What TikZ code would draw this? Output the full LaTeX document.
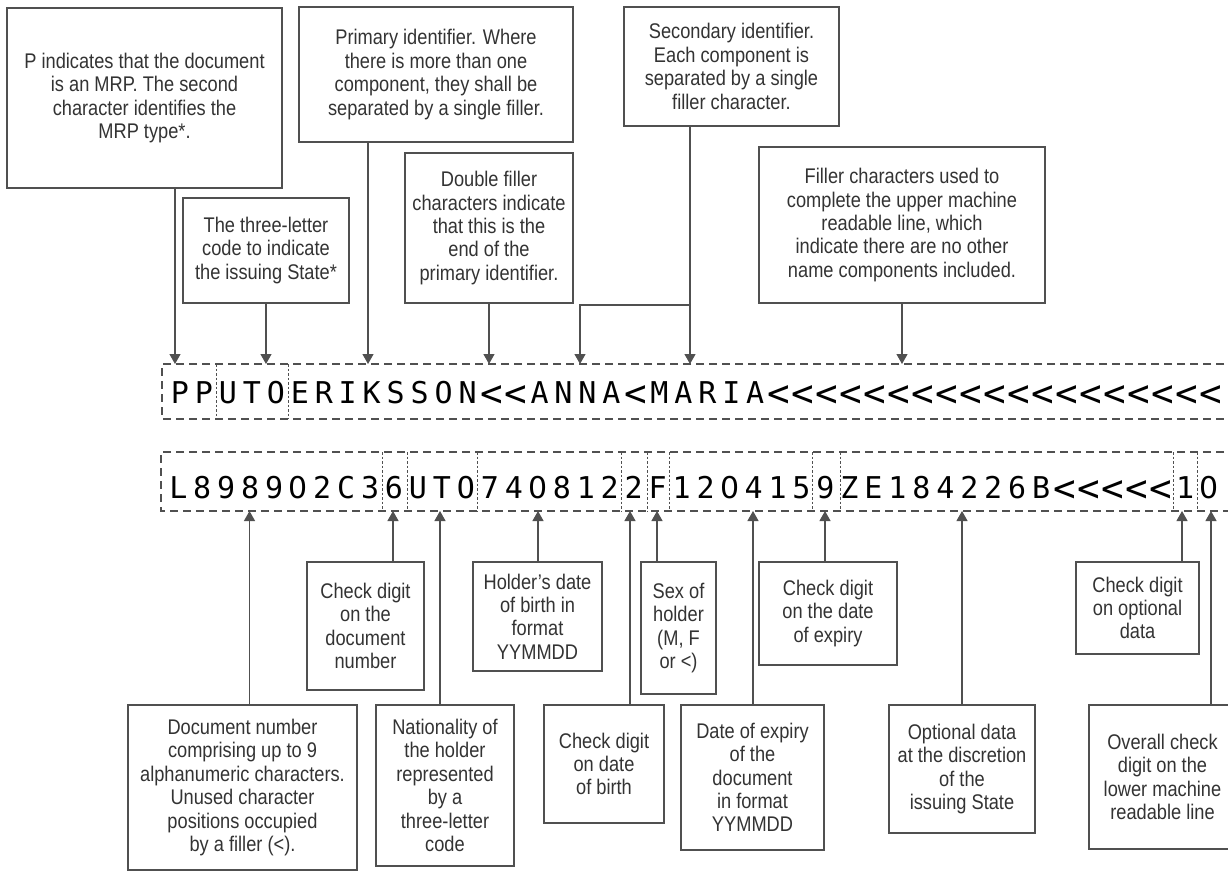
\documentclass[tikz,border=0pt]{standalone}
\usepackage{fontspec}
\usepackage{graphicx}
\setmainfont[FakeStretch=0.86]{Liberation Sans}
\newfontfamily\mrzfont{DejaVu Sans Mono}
\newfontfamily\mrzsans{DejaVu Sans}
\usetikzlibrary{arrows.meta}
\definecolor{ln}{HTML}{505050}
\definecolor{tx}{HTML}{333333}
\newcommand\lt{\raisebox{-3pt}{\scalebox{1.25}{<}}}
\newcommand\zr{{\mrzsans 0}}
\tikzset{
  box/.style={draw=ln, line width=1.2pt, text=tx, align=center, inner sep=0pt,
    font=\fontsize{21.2}{23.4}\selectfont},
  arr/.style={draw=ln, line width=1.2pt, -{Triangle[length=10pt,width=11pt]}},
  outer/.style={draw=ln, line width=1.1pt, dash pattern=on 8pt off 5pt},
  sepl/.style={draw=ln, line width=0.9pt, dash pattern=on 2.5pt off 2pt},
  ch/.style={anchor=base, inner sep=0pt, font=\fontsize{30}{30}\selectfont\mrzfont, text=black},
}
\begin{document}
\begin{tikzpicture}[x=1pt,y=-1pt]
\useasboundingbox (0,0) rectangle (1228,872);
\fill[white] (0,0) rectangle (1228,872);

% ---------- top boxes ----------
\node[box, minimum width=275pt, minimum height=180pt] (A) at (144.5,98)
  {P indicates that the document\\is an MRP. The second\\character identifies the\\MRP type*.};
\node[box, minimum width=166pt, minimum height=105pt] (B) at (266,250.5)
  {The three-letter\\code to indicate\\the issuing State*};
\node[box, minimum width=274pt, minimum height=135pt] (Pr) at (436,74.5)
  {Primary identifier. Where\\there is more than one\\component, they shall be\\separated by a single filler.};
\node[box, minimum width=168pt, minimum height=150pt] (D) at (489,228)
  {Double filler\\characters indicate\\that this is the\\end of the\\primary identifier.};
\node[box, minimum width=215pt, minimum height=119pt] (S) at (731.5,66.5)
  {Secondary identifier.\\Each component is\\separated by a single\\filler character.};
\node[box, minimum width=286pt, minimum height=156pt] (F) at (902,225)
  {Filler characters used to\\complete the upper machine\\readable line, which\\indicate there are no other\\name components included.};

% ---------- bottom boxes ----------
\node[box, minimum width=229pt, minimum height=165pt] (DN) at (242.5,787.5)
  {Document number\\comprising up to 9\\alphanumeric characters.\\Unused character\\positions occupied\\by a filler (<).};
\node[box, minimum width=117pt, minimum height=128pt] (CD) at (365.5,626)
  {Check digit\\on the\\document\\number};
\node[box, minimum width=138pt, minimum height=161pt] (NA) at (445,785.5)
  {Nationality of\\the holder\\represented\\by a\\three-letter\\code};
\node[box, minimum width=129pt, minimum height=109pt] (HB) at (537.5,616.5)
  {Holder’s date\\of birth in\\format\\YYMMDD};
\node[box, minimum width=120pt, minimum height=118pt] (CB) at (604,764)
  {Check digit\\on date\\of birth};
\node[box, minimum width=75pt, minimum height=132pt] (SX) at (678.5,628)
  {Sex of\\holder\\(M, F\\or <)};
\node[box, minimum width=143pt, minimum height=145pt] (EX) at (752.5,777.5)
  {Date of expiry\\of the\\document\\in format\\YYMMDD};
\node[box, minimum width=138pt, minimum height=103pt] (CE) at (828,613.5)
  {Check digit\\on the date\\of expiry};
\node[box, minimum width=146pt, minimum height=128pt] (OD) at (962,769)
  {Optional data\\at the discretion\\of the\\issuing State};
\node[box, minimum width=123pt, minimum height=92pt] (CO) at (1137.5,608)
  {Check digit\\on optional\\data};
\node[box, minimum width=147pt, minimum height=144pt] (OV) at (1162.5,777)
  {Overall check\\digit on the\\lower machine\\readable line};

% ---------- MRZ frames ----------
\draw[outer] (1250,364) -- (162,364) -- (162,419) -- (1250,419);
\draw[sepl] (216,364) -- (216,419);
\draw[sepl] (288,364) -- (288,419);
\draw[outer] (1250,452) -- (161,452) -- (161,511) -- (1250,511);
\foreach \sx in {382,407,477.5,621,647,669.5,812.5,840,1173.5,1197}
  \draw[sepl] (\sx,452) -- (\sx,511);

% ---------- MRZ characters ----------
\foreach \c [count=\i from 0] in {P,P,U,T,O,E,R,I,K,S,S,O,N,\lt,\lt,A,N,N,A,\lt,M,A,R,I,A,%
  \lt,\lt,\lt,\lt,\lt,\lt,\lt,\lt,\lt,\lt,\lt,\lt,\lt,\lt,\lt,\lt,\lt,\lt,\lt}
  \node[ch] (ua\i) at ({168+23.97*(\i+0.5)},403) {\c};
\foreach \c [count=\i from 0] in {L,8,9,8,9,\zr,2,C,3,6,U,T,O,7,4,\zr,8,1,2,2,F,1,2,\zr,4,1,5,9,%
  Z,E,1,8,4,2,2,6,B,\lt,\lt,\lt,\lt,\lt,1,\zr}
  \node[ch] (lb\i) at ({166.3+23.97*(\i+0.5)},498) {\c};

% ---------- top connectors ----------
\coordinate (tA) at (175,364);
\coordinate (tB) at (266,364);
\coordinate (tP) at (368,364);
\coordinate (tD) at (489,364);
\coordinate (tS) at (690,364);
\coordinate (tS2) at (580,364);
\coordinate (jS) at (690,305);
\coordinate (tF) at (902,364);
\draw[arr] (A.south -| tA) -- (tA);
\draw[arr] (B.south -| tB) -- (tB);
\draw[arr] (Pr.south -| tP) -- (tP);
\draw[arr] (D.south -| tD) -- (tD);
\draw[arr] (S.south -| tS) -- (tS);
\draw[arr] (jS) -| (tS2);
\draw[arr] (F.south -| tF) -- (tF);

% ---------- bottom connectors ----------
\coordinate (bDN) at (249.5,511);
\coordinate (bCD) at (393,511);
\coordinate (bNA) at (440,511);
\coordinate (bHB) at (538,511);
\coordinate (bCB) at (630,511);
\coordinate (bSX) at (657,511);
\coordinate (bEX) at (753,511);
\coordinate (bCE) at (825,511);
\coordinate (bOD) at (962,511);
\coordinate (bCO) at (1182,511);
\coordinate (bOV) at (1211,511);
\draw[arr] (DN.north -| bDN) -- (bDN);
\draw[arr] (CD.north -| bCD) -- (bCD);
\draw[arr] (NA.north -| bNA) -- (bNA);
\draw[arr] (HB.north -| bHB) -- (bHB);
\draw[arr] (CB.north -| bCB) -- (bCB);
\draw[arr] (SX.north -| bSX) -- (bSX);
\draw[arr] (EX.north -| bEX) -- (bEX);
\draw[arr] (CE.north -| bCE) -- (bCE);
\draw[arr] (OD.north -| bOD) -- (bOD);
\draw[arr] (CO.north -| bCO) -- (bCO);
\draw[arr] (OV.north -| bOV) -- (bOV);
\end{tikzpicture}
\end{document}
